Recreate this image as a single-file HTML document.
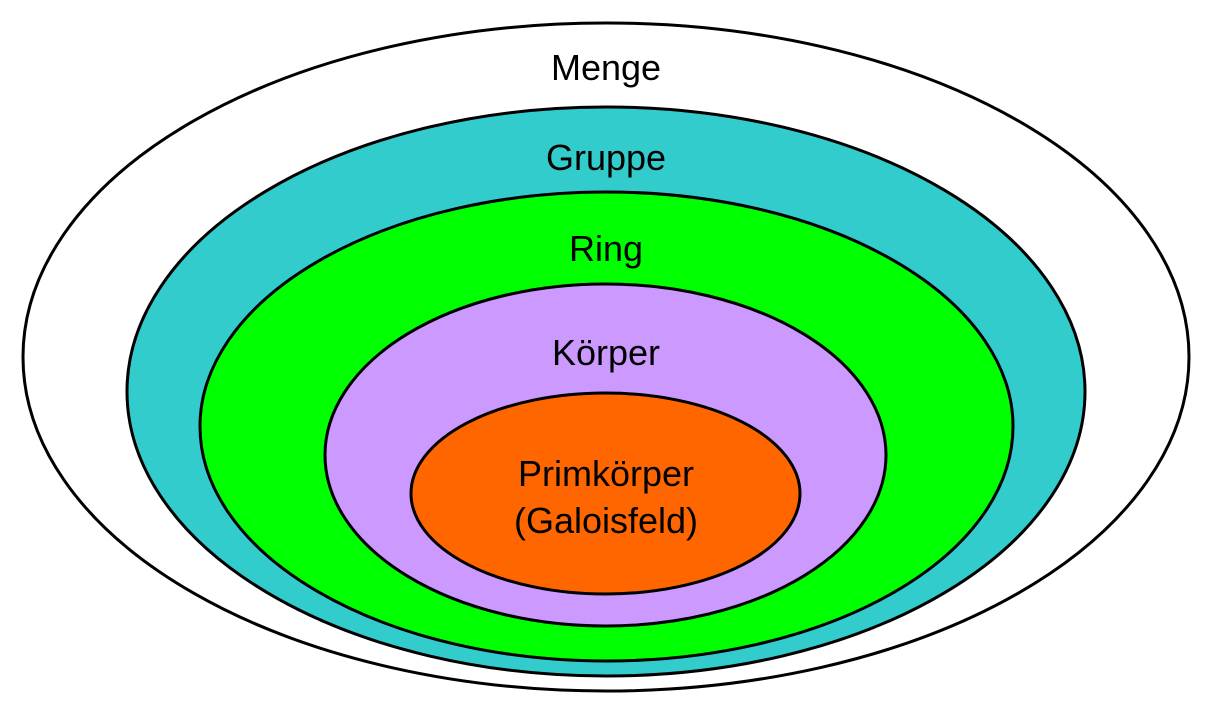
<!DOCTYPE html>
<html><head><meta charset="utf-8"><style>html,body{margin:0;padding:0;background:#fff}svg{display:block}</style></head>
<body>
<svg width="1215" height="710" viewBox="0 0 1215 710" xmlns="http://www.w3.org/2000/svg" font-family="Liberation Sans, Arial, sans-serif" font-size="36" text-anchor="middle">
<g stroke="#000" stroke-width="3">
<ellipse cx="606" cy="357" rx="583" ry="334" fill="#fff"/>
<ellipse cx="606" cy="391.5" rx="479" ry="284.5" fill="#33CCCC"/>
<ellipse cx="606.5" cy="426.5" rx="406.5" ry="234.5" fill="#00FF00"/>
<ellipse cx="605.5" cy="455" rx="280.5" ry="171" fill="#CC99FF"/>
<ellipse cx="605.5" cy="493.5" rx="194.5" ry="100.5" fill="#FF6600"/>
</g>
<g fill="#000">
<text x="606" y="80">Menge</text>
<text x="606" y="170">Gruppe</text>
<text x="606" y="261">Ring</text>
<text x="606" y="365">Körper</text>
<text x="606" y="486">Primkörper</text>
<text x="606" y="533">(Galoisfeld)</text>
</g>
</svg>
</body></html>
